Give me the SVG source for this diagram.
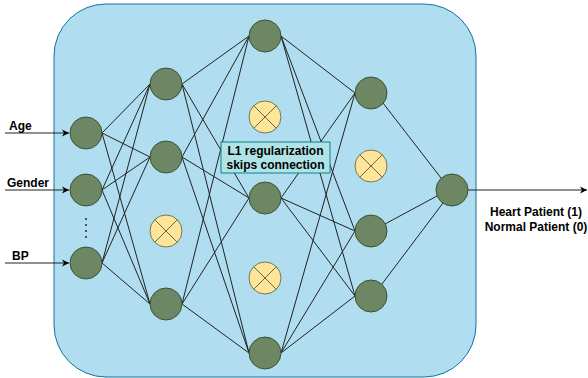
<svg xmlns="http://www.w3.org/2000/svg" width="588" height="378" viewBox="0 0 588 378">
<defs>
<style>
.n{fill:#6d8764;stroke:#3a5431;stroke-width:1}
.x circle{fill:#ffe599;stroke:#6f7a55;stroke-width:1}
.x path{stroke:#5f6a45;stroke-width:1;fill:none}
.e{stroke:#222;stroke-width:1;fill:none}
.t{font-family:"Liberation Sans",Arial,sans-serif;font-size:12px;font-weight:bold;fill:#000}
</style>
<marker id="ar" markerWidth="8" markerHeight="8" refX="7" refY="4" orient="auto" markerUnits="userSpaceOnUse">
<path d="M0,0.5 L7,4 L0,7.5 L2,4 Z" fill="#000"/>
</marker>
</defs>
<rect id="panel" x="54" y="4" width="422" height="373" rx="52" ry="52" fill="#b1ddf0" stroke="#10739e" stroke-width="1"/>
<g id="connectors" class="e">
<line x1="5" y1="133" x2="69" y2="133" marker-end="url(#ar)"/>
<line x1="5" y1="190" x2="69" y2="190" marker-end="url(#ar)"/>
<line x1="5" y1="263" x2="69" y2="263" marker-end="url(#ar)"/>
<line x1="102" y1="133" x2="150" y2="84"/>
<line x1="102" y1="133" x2="150" y2="157"/>
<line x1="102" y1="133" x2="150" y2="304"/>
<line x1="102" y1="190" x2="150" y2="84"/>
<line x1="102" y1="190" x2="150" y2="157"/>
<line x1="102" y1="190" x2="150" y2="304"/>
<line x1="102" y1="263" x2="150" y2="84"/>
<line x1="102" y1="263" x2="150" y2="157"/>
<line x1="102" y1="263" x2="150" y2="304"/>
<line x1="182" y1="84" x2="249" y2="36"/>
<line x1="182" y1="84" x2="249" y2="198"/>
<line x1="182" y1="84" x2="249" y2="353"/>
<line x1="182" y1="157" x2="249" y2="36"/>
<line x1="182" y1="157" x2="249" y2="198"/>
<line x1="182" y1="157" x2="249" y2="353"/>
<line x1="182" y1="304" x2="249" y2="36"/>
<line x1="182" y1="304" x2="249" y2="198"/>
<line x1="182" y1="304" x2="249" y2="353"/>
<line x1="281" y1="36" x2="355" y2="93"/>
<line x1="281" y1="36" x2="355" y2="231"/>
<line x1="281" y1="36" x2="355" y2="296"/>
<line x1="281" y1="198" x2="355" y2="93"/>
<line x1="281" y1="198" x2="355" y2="231"/>
<line x1="281" y1="198" x2="355" y2="296"/>
<line x1="281" y1="353" x2="355" y2="93"/>
<line x1="281" y1="353" x2="355" y2="231"/>
<line x1="281" y1="353" x2="355" y2="296"/>
<line x1="383" y1="103" x2="441" y2="178"/>
<line x1="385" y1="224" x2="437" y2="196"/>
<line x1="382" y1="284" x2="443" y2="203"/>
<line x1="468" y1="190" x2="587" y2="190" marker-end="url(#ar)"/>
</g>
<g id="label-box">
<rect x="221" y="142" width="109" height="31" fill="#b0e3e6" stroke="#0e8088" stroke-width="1"/>
<text class="t" x="275.5" y="155" text-anchor="middle">L1 regularization</text>
<text class="t" x="275.5" y="169" text-anchor="middle">skips connection</text>
</g>
<g id="in-age"><circle class="n" cx="86" cy="133" r="16"/></g>
<g id="in-gender"><circle class="n" cx="86" cy="190" r="16"/></g>
<g id="in-bp"><circle class="n" cx="86" cy="263" r="16"/></g>
<g id="dots" fill="#333">
<circle cx="86" cy="219" r="1.1"/><circle cx="86" cy="225" r="1.1"/><circle cx="86" cy="231" r="1.1"/><circle cx="86" cy="237" r="1.1"/>
</g>
<g id="h1-1"><circle class="n" cx="166" cy="84" r="16"/></g>
<g id="h1-2"><circle class="n" cx="166" cy="157" r="16"/></g>
<g id="h1-x" class="x"><circle cx="166" cy="231" r="16"/><path d="M154.7,219.7 L177.3,242.3 M177.3,219.7 L154.7,242.3"/></g>
<g id="h1-4"><circle class="n" cx="166" cy="304" r="16"/></g>
<g id="h2-1"><circle class="n" cx="265" cy="36" r="16"/></g>
<g id="h2-x1" class="x"><circle cx="265" cy="117" r="16"/><path d="M253.7,105.7 L276.3,128.3 M276.3,105.7 L253.7,128.3"/></g>
<g id="h2-3"><circle class="n" cx="265" cy="198" r="16"/></g>
<g id="h2-x2" class="x"><circle cx="265" cy="278" r="16"/><path d="M253.7,266.7 L276.3,289.3 M276.3,266.7 L253.7,289.3"/></g>
<g id="h2-5"><circle class="n" cx="265" cy="353" r="16"/></g>
<g id="h3-1"><circle class="n" cx="371" cy="93" r="16"/></g>
<g id="h3-x" class="x"><circle cx="371" cy="166" r="16"/><path d="M359.7,154.7 L382.3,177.3 M382.3,154.7 L359.7,177.3"/></g>
<g id="h3-3"><circle class="n" cx="371" cy="231" r="16"/></g>
<g id="h3-4"><circle class="n" cx="371" cy="296" r="16"/></g>
<g id="out"><circle class="n" cx="452" cy="190" r="16"/></g>
<g id="labels">
<text class="t" x="9" y="130">Age</text>
<text class="t" x="7" y="187">Gender</text>
<text class="t" x="12" y="260">BP</text>
<text class="t" x="536" y="216" text-anchor="middle">Heart Patient (1)</text>
<text class="t" x="536" y="231" text-anchor="middle">Normal Patient (0)</text>
</g>
</svg>
